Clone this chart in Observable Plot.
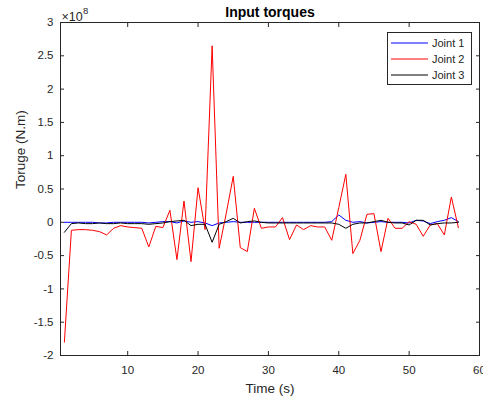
<!DOCTYPE html>
<html><head><meta charset="utf-8">
<script src="https://cdn.jsdelivr.net/npm/d3@7"></script>
<script src="https://cdn.jsdelivr.net/npm/@observablehq/plot@0.6"></script>
<style>body{margin:0;background:#fff}</style>
</head><body><div id="chart"></div>
<script>
// Time samples (s)
const time = d3.range(1, 58);
// Torque values, in units of 1e8 N.m (axis multiplier ×10^8)
const joint1 = [0.00,0.00,0.00,0.00,0.00,-0.01,-0.01,0.00,0.00,0.00,0.00,0.00,-0.01,0.00,0.01,0.01,-0.01,0.02,0.00,0.01,-0.01,-0.05,-0.01,0.00,0.01,0.00,0.00,0.00,0.00,0.00,0.00,0.00,0.00,0.00,0.00,0.00,0.00,0.00,0.01,0.11,0.03,0.00,0.01,-0.01,0.00,0.01,0.00,0.00,0.00,-0.01,0.03,0.02,-0.02,0.01,0.03,0.07,0.01];
const joint2 = [-1.80,-0.12,-0.11,-0.11,-0.12,-0.14,-0.19,-0.09,-0.05,-0.07,-0.08,-0.09,-0.37,-0.06,-0.08,0.18,-0.56,0.32,-0.59,0.52,-0.11,2.65,-0.39,0.13,0.69,-0.38,-0.44,0.21,-0.09,-0.07,-0.07,0.07,-0.26,-0.04,-0.11,-0.05,-0.07,-0.07,-0.27,0.22,0.72,-0.47,-0.27,0.12,0.13,-0.44,0.06,-0.09,-0.09,0.01,-0.03,-0.21,-0.04,-0.02,-0.19,0.38,-0.08];
const joint3 = [-0.15,-0.02,-0.01,-0.02,-0.02,-0.01,-0.02,-0.02,-0.01,-0.02,-0.02,-0.02,-0.03,-0.02,-0.01,0.01,0.02,0.03,-0.05,-0.03,-0.03,-0.30,-0.03,0.01,0.06,-0.01,0.01,0.02,0.00,-0.01,-0.01,-0.01,-0.01,-0.01,-0.01,-0.01,-0.01,-0.01,-0.01,-0.03,-0.09,-0.03,-0.01,-0.01,0.01,0.03,0.00,-0.01,-0.01,-0.04,0.03,0.03,-0.04,-0.02,-0.01,-0.01,0.00];
const seriesNames = ["Joint 1", "Joint 2", "Joint 3"];
const seriesColors = ["#0000ff", "#ff0000", "#000000"];
const xTicks = [10, 20, 30, 40, 50, 60];
const yTicks = [-2, -1.5, -1, -0.5, 0, 0.5, 1, 1.5, 2, 2.5, 3];
const titleText = "Input torques";
const xLabel = "Time (s)";
const yLabel = "Toruge (N.m)";

const rows = [joint1, joint2, joint3].map((vals) => time.map((t, i) => ({t, v: vals[i]})));
const axisColor = "#262626";
const font = "'Liberation Sans', Arial, Helvetica, sans-serif";

const chart = Plot.plot({
  width: 483, height: 400,
  marginLeft: 60, marginRight: 4, marginTop: 22, marginBottom: 45,
  style: {fontFamily: font, fontSize: "11.5px", color: axisColor, background: "#fff"},
  x: {domain: [0.45, 60]},
  y: {domain: [-2, 3]},
  marks: [
    ...rows.map((r, k) => Plot.line(r, {x: "t", y: "v", stroke: seriesColors[k], strokeWidth: 1})),
    Plot.frame({stroke: axisColor}),
    Plot.axisX(xTicks, {anchor: "bottom", tickSize: 4, dy: -4, fill: "none", stroke: axisColor}),
    Plot.axisX(xTicks, {anchor: "top", tickSize: 4, dy: 4, fill: "none", stroke: axisColor}),
    Plot.axisY(yTicks, {anchor: "left", tickSize: 4, dx: 4, fill: "none", stroke: axisColor}),
    Plot.axisY(yTicks, {anchor: "right", tickSize: 4, dx: -4, fill: "none", stroke: axisColor}),
    Plot.axisX(xTicks, {anchor: "bottom", tickSize: 0, tickPadding: 10, label: null, tickFormat: (d) => String(d), fill: axisColor}),
    Plot.axisY(yTicks, {anchor: "left", tickSize: 0, tickPadding: 7, label: null, tickFormat: (d) => String(d), fill: axisColor}),
    Plot.text([titleText], {frameAnchor: "top", lineAnchor: "middle", dy: -10, text: (d) => d, fontWeight: "bold", fontSize: 14, fill: "#000"}),
    Plot.text([xLabel], {frameAnchor: "bottom", lineAnchor: "middle", dy: 33, text: (d) => d, fontSize: 13.5, fill: axisColor}),
    Plot.text([yLabel], {frameAnchor: "left", lineAnchor: "middle", dx: -40, rotate: -90, text: (d) => d, fontSize: 13.5, fill: axisColor}),
    Plot.text(["×10"], {frameAnchor: "top-left", lineAnchor: "middle", textAnchor: "start", dx: 1, dy: -6, text: (d) => d, fontSize: 12.5, fill: axisColor}),
    Plot.text(["8"], {frameAnchor: "top-left", lineAnchor: "middle", textAnchor: "start", dx: 22.5, dy: -12, text: (d) => d, fontSize: 9.5, fill: axisColor})
  ]
});
document.getElementById("chart").appendChild(chart);

// Legend (inside the axes, top-right)
const svg = d3.select(chart);
const lg = svg.append("g").attr("font-family", font).attr("font-size", 11).attr("text-anchor", "start");
lg.append("rect").attr("x", 387.5).attr("y", 32.5).attr("width", 84).attr("height", 52)
  .attr("fill", "#fff").attr("stroke", axisColor).attr("stroke-width", 1);
seriesNames.forEach((name, i) => {
  const yy = 43 + i * 16;
  lg.append("line").attr("x1", 391).attr("x2", 428).attr("y1", yy).attr("y2", yy)
    .attr("stroke", seriesColors[i]).attr("stroke-width", 1);
  lg.append("text").attr("x", 432).attr("y", yy).attr("dy", "0.35em").attr("text-anchor", "start").attr("fill", axisColor).text(name);
});
</script>
</body></html>
